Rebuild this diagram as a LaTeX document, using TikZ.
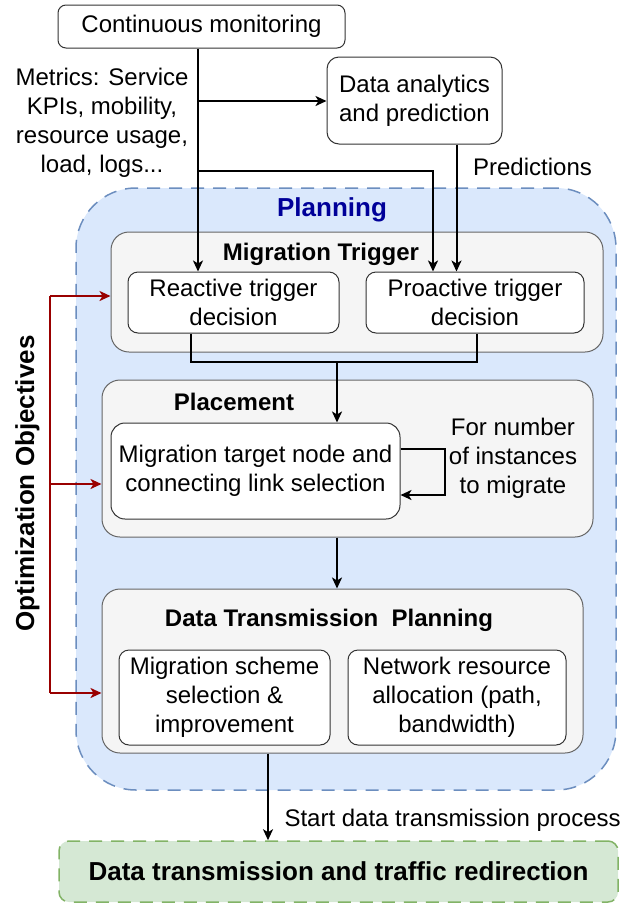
\documentclass[tikz,border=0pt]{standalone}
\usepackage{fontspec}
\setmainfont{Liberation Sans}
\usepackage{xcolor}
\usetikzlibrary{arrows.meta}

\definecolor{planfill}{HTML}{DAE8FC}
\definecolor{planedge}{HTML}{6C8EBF}
\definecolor{plantext}{HTML}{000099}
\definecolor{greyfill}{HTML}{F5F5F5}
\definecolor{greyedge}{HTML}{666666}
\definecolor{donefill}{HTML}{D5E8D4}
\definecolor{doneedge}{HTML}{82B366}
\definecolor{objred}{HTML}{990000}

\begin{document}
\begin{tikzpicture}[x=1pt,y=-1pt,font=\fontsize{24}{29}\selectfont]

        \tikzstyle{whitebox}=[draw=black!80,fill=white,rounded corners=10pt,line width=1pt,align=center,inner sep=0pt]
        \tikzstyle{greybox}=[draw=greyedge,fill=greyfill,rounded corners=18pt,line width=1pt,inner sep=0pt]
        \tikzstyle{boxtitle}=[font=\fontsize{24}{29}\selectfont\bfseries]
        \tikzstyle{bigtitle}=[font=\fontsize{26}{31}\selectfont\bfseries]
        \tikzstyle{arr}=[line width=2pt,-{Stealth[length=11pt,width=10pt,inset=3pt]}]
        \tikzstyle{objarr}=[arr,draw=objred,fill=objred]

        \useasboundingbox (0,0) rectangle (638,903);

        %% Monitoring and analytics
        \node[whitebox,rounded corners=8pt,minimum width=287pt,minimum height=43pt] (mon) at (201.5,26.5) {Continuous monitoring};
        \node[whitebox,rounded corners=12pt,minimum width=175pt,minimum height=87pt] (ana) at (414.5,100.5) {Data analytics\\and prediction};
        \node[align=center] (metrics) at (102,122.5) {Metrics: Service\\KPIs, mobility,\\resource usage,\\load, logs...};
        \node (predlbl) at (532.5,167) {Predictions};

        %% Planning block
        \node[draw=planedge,fill=planfill,dash pattern=on 13pt off 9pt,rounded corners=60pt,line width=1.5pt,minimum width=540pt,minimum height=602pt] (plan) at (346,489) {};
        \node[bigtitle,text=plantext] (plantitle) at (332,210) {Planning};

        % trigger
        \node[greybox,minimum width=492pt,minimum height=120pt] (trig) at (357,292) {};
        \node[boxtitle] (trigtitle) at (321,254) {Migration Trigger};
        \node[whitebox,minimum width=211pt,minimum height=61pt] (react) at (233.5,302.5) {Reactive trigger\\decision};
        \node[whitebox,minimum width=218pt,minimum height=61pt] (proact) at (475,302.5) {Proactive trigger\\decision};

        % placement
        \node[greybox,minimum width=491pt,minimum height=157pt] (place) at (347.5,458.5) {};
        \node[boxtitle] (placetitle) at (234,402) {Placement};
        \node[whitebox,rounded corners=14pt,minimum width=289pt,minimum height=96pt] (target) at (255.5,471) {Migration target node and\\connecting link selection};
        \node[align=center] (loopnote) at (513,458) {For number\\of instances\\to migrate};

        % data transmission planning
        \node[greybox,minimum width=481pt,minimum height=164pt] (dtp) at (342.5,671) {};
        \node[boxtitle] (dtptitle) at (329,620) {Data Transmission\ \ Planning};
        \node[whitebox,minimum width=211pt,minimum height=95pt] (scheme) at (224.5,697.5) {Migration scheme\\selection \&\\improvement};
        \node[whitebox,minimum width=218pt,minimum height=95pt] (netres) at (457,697.5) {Network resource\\allocation (path,\\bandwidth)};

        %% Final step
        \node[draw=doneedge,fill=donefill,dash pattern=on 13pt off 9pt,rounded corners=10pt,line width=1.5pt,minimum width=559pt,minimum height=61pt,bigtitle] (final) at (338.5,871.5) {Data transmission and traffic redirection};
        \node[anchor=west] (startlbl) at (281,820) {Start data transmission process};

        \node[bigtitle,rotate=90] (objlbl) at (27.5,483.5) {Optimization Objectives};

        %% Connectors
        \coordinate (m1) at (198,101);
        \coordinate (m2) at (198,171);
        \draw[arr] (mon.south -| m1) -- (react.north -| m1);
        \draw[arr] (m1) -- (ana.west |- m1);
        \draw[arr] (m2) -| ([xshift=-42pt]proact.north);
        \draw[arr] ([xshift=42pt]ana.south) -- ([xshift=42pt]ana.south |- proact.north);

        \coordinate (join) at (337,362);
        \draw[line width=2pt] ([xshift=-43pt]react.south) |- (join) -| ([xshift=2pt]proact.south);
        \draw[arr] (join) -- (target.north -| join);
        \draw[arr] ([yshift=22pt]target.east) -- ++(44,0) |- ([yshift=-24pt]target.east);
        \draw[arr] (place.south -| join) -- (dtp.north -| join);
        \draw[arr] ([xshift=-74.5pt]dtp.south) -- ([xshift=-74.5pt]dtp.south |- final.north);

        % objectives
        \coordinate (o1) at (50,296);
        \coordinate (o2) at (50,484);
        \coordinate (o3) at (50,693);
        \draw[objred,line width=2pt] (o1) -- (o3);
        \draw[objarr] (o1) -- (trig.west |- o1);
        \draw[objarr] (o2) -- (place.west |- o2);
        \draw[objarr] (o3) -- (dtp.west |- o3);

    \end{tikzpicture}
\end{document}
